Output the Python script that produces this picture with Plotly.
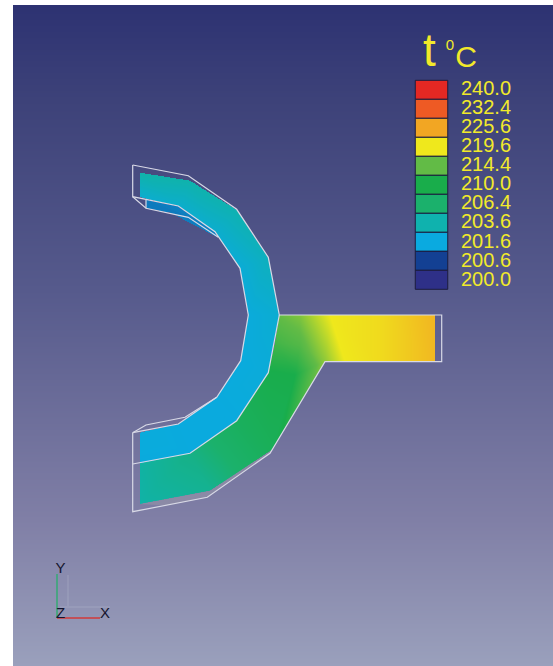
import numpy as np
import plotly.graph_objects as go

# ---------- legend ----------
legend_labels = ["240.0", "232.4", "225.6", "219.6", "214.4", "210.0", "206.4", "203.6", "201.6", "200.6", "200.0"]
legend_temps = [240.0, 232.4, 225.6, 219.6, 214.4, 210.0, 206.4, 203.6, 201.6, 200.6, 200.0]
legend_colors = ["#e52823", "#ee5a24", "#f2a623", "#efe81c", "#62bb46", "#19ad4b", "#1bb16c",
                 "#0fb2ae", "#0aaae0", "#134093", "#2e3088"]

# ---------- background gradient (pixel row, colour) ----------
bg_rows = [5, 100, 290, 520, 666]
bg_colors = ["#2d3272", "#3d4279", "#565a8c", "#807fa6", "#9aa0bc"]

# ---------- temperature field: mesh nodes ----------
band_outer_x = [140, 190, 236.7, 268.3, 279.3, 268.3, 236.7, 190, 140]
band_outer_y = [172.7, 180.7, 210, 258.3, 315, 372.7, 420.7, 453.3, 463.3]
band_outer_t = [203.8, 203.7, 203.5, 203.0, 202.2, 201.9, 201.7, 201.7, 201.7]
band_inner_x = [140, 180, 216.7, 240, 248.3, 240.7, 216.7, 178.3, 140]
band_inner_y = [197, 206.7, 233.3, 268.3, 315, 360.7, 397.3, 424, 432.7]
band_inner_t = [202.3, 202.4, 202.3, 202.0, 201.8, 201.7, 201.7, 201.7, 201.8]

# outer band + junction + stem nodes
o_names = ["a0", "a05", "a1", "a2", "a3", "a4", "b0", "b1", "b2", "b3", "t1", "t2", "t3", "t4",
           "s2", "s3", "s4", "c", "m"]
o_x = [279.3, 275, 268.3, 236.7, 190, 140, 325, 271.7, 210, 140, 300, 330, 380, 435, 345, 380, 435, 300, 295]
o_y = [315, 343, 372.7, 420.7, 453.3, 463.3, 361.7, 450, 490.7, 504, 315, 315, 315, 315, 361.7, 361.7, 361.7, 345, 375]
o_t = [214.5, 212.5, 209.8, 208, 205.3, 204.1, 216, 208.5, 204.8, 203.9, 215.5, 219.6, 220.8, 224.2, 219.6, 220.8, 223.9, 213.5, 210]
o_tris = [("a0", "t1", "c"), ("a0", "c", "a05"), ("t1", "t2", "c"), ("t2", "b0", "c"), ("t2", "s2", "b0"),
          ("t2", "t3", "s3"), ("t2", "s3", "s2"), ("t3", "t4", "s4"), ("t3", "s4", "s3"),
          ("a05", "c", "m"), ("c", "b0", "m"), ("a05", "m", "a1"), ("b0", "b1", "m"), ("a1", "m", "b1"),
          ("a1", "b1", "a2"), ("a2", "b1", "b2"), ("a2", "b2", "a3"), ("a3", "b2", "b3"), ("a3", "b3", "a4")]

# darker back face under the upper arm
back_x = [146, 178, 215, 218, 188, 146]
back_y = [200, 206.5, 232, 237.5, 216, 208]
back_t = [201.15, 201.2, 201.2, 201.2, 201.15, 201.15]

# grey sliver under the lower band
sliver_x = [140, 210, 271.7, 270, 207.5, 165]
sliver_y = [504, 490.7, 450, 453.5, 497.5, 505.5]

# ---------- white wireframe polylines ----------
wire_paths = [
    ([132.7, 188.3, 236.7, 268.3, 279.3, 441.7, 441.7, 325, 270, 207.3, 132.7, 132.7],
     [165, 175.7, 209.3, 257.3, 315, 315, 361.7, 361.7, 453.3, 497.3, 511.7, 432.7]),
    ([132.7, 132.7, 178.3, 215, 240, 248.3, 248.3, 240.7, 216.7, 185, 146, 132.7],
     [165, 196.7, 206, 231.7, 268.3, 313.3, 315, 360.7, 397.3, 417.3, 425, 432.7]),
    ([132.7, 146, 188.3, 218.3], [196.7, 208.3, 217.3, 237.3]),
    ([146, 146], [200, 208.3]),
    ([132.7, 190, 236.7, 268.3, 279.3], [464, 453.3, 420.7, 372.7, 315]),
    ([132.7, 178.3, 216.7], [432.7, 424, 397.3]),
]

# ---------- axis triad ----------
triad_labels = ["Y", "Z", "X"]
triad_x = [60.5, 60.5, 105]
triad_y = [569, 614.5, 614]


def raster(tris, xs, ys):
    """Fill a pixel grid with temperature from triangles (barycentric)."""
    px, py = np.meshgrid(xs[:-1] + 0.5, ys[:-1] + 0.5)
    out = np.full(px.shape, np.nan)
    for (x1, y1, t1), (x2, y2, t2), (x3, y3, t3) in tris:
        d = (y2 - y3) * (x1 - x3) + (x3 - x2) * (y1 - y3)
        if abs(d) < 1e-9:
            continue
        l1 = ((y2 - y3) * (px - x3) + (x3 - x2) * (py - y3)) / d
        l2 = ((y3 - y1) * (px - x3) + (x1 - x3) * (py - y3)) / d
        l3 = 1 - l1 - l2
        m = (l1 >= -1e-3) & (l2 >= -1e-3) & (l3 >= -1e-3)
        out[m] = (l1 * t1 + l2 * t2 + l3 * t3)[m]
    return out


tris = []
bk = list(zip(back_x, back_y, back_t))
for i in range(1, len(bk) - 1):
    tris.append((bk[0], bk[i], bk[i + 1]))
op = list(zip(band_outer_x, band_outer_y, band_outer_t))
ip = list(zip(band_inner_x, band_inner_y, band_inner_t))
for i in range(len(op) - 1):
    tris.append((op[i], op[i + 1], ip[i + 1]))
    tris.append((op[i], ip[i + 1], ip[i]))
nodes = {n: (x, y, t) for n, x, y, t in zip(o_names, o_x, o_y, o_t)}
for a, b, c in o_tris:
    tris.append((nodes[a], nodes[b], nodes[c]))

gx = np.arange(125, 451)
gy = np.arange(155, 521)
field = raster(tris, gx.astype(float), gy.astype(float))

tmin, tmax = min(legend_temps), max(legend_temps)
colorscale = [[(t - tmin) / (tmax - tmin), c] for t, c in zip(legend_temps[::-1], legend_colors[::-1])]

fig = go.Figure()

# background
bx = [13, 553]
by = np.arange(5, 667)
bz = (by[:-1] + 0.5).reshape(-1, 1)
bg_scale = [[(r - bg_rows[0]) / (bg_rows[-1] - bg_rows[0]), c] for r, c in zip(bg_rows, bg_colors)]
fig.add_trace(go.Heatmap(x=bx, y=by, z=bz, colorscale=bg_scale, zmin=bg_rows[0], zmax=bg_rows[-1],
                         showscale=False, hoverinfo="skip"))

# grey sliver
fig.add_trace(go.Scatter(x=sliver_x + sliver_x[:1], y=sliver_y + sliver_y[:1], mode="lines", fill="toself",
                         fillcolor="#8b8aa6", line=dict(width=0), hoverinfo="skip"))

# temperature field
fig.add_trace(go.Heatmap(x=gx, y=gy, z=field, colorscale=colorscale, zmin=tmin, zmax=tmax,
                         showscale=False, hoverinfo="skip"))

# wireframe
for wx, wy in wire_paths:
    fig.add_trace(go.Scatter(x=wx, y=wy, mode="lines", line=dict(color="#d8d9e6", width=1.2), hoverinfo="skip"))

# legend swatches
n = len(legend_labels)
fig.add_trace(go.Bar(x=[431.5] * n, y=[19] * n, base=[80.3 + i * 19 for i in range(n)], width=32.5,
                     marker=dict(color=legend_colors, line=dict(color="#1c1c3c", width=1)), hoverinfo="skip"))
fig.add_trace(go.Scatter(x=[461] * n, y=[90 + i * 19.07 for i in range(n)], mode="text", text=legend_labels,
                         textposition="middle right", hoverinfo="skip",
                         textfont=dict(family="Liberation Sans", size=20, color="#f2ea2a")))
# title
fig.add_trace(go.Scatter(x=[429.5, 450, 466], y=[54, 46.5, 59], mode="text", text=["t", "0", "C"],
                         textposition="middle center", hoverinfo="skip",
                         textfont=dict(family="Liberation Sans", size=[46, 15, 30], color="#f2ea2a")))

# triad
fig.add_trace(go.Scatter(x=[68, 68], y=[575, 606], mode="lines", line=dict(color="rgba(190,195,215,0.35)", width=1), hoverinfo="skip"))
fig.add_trace(go.Scatter(x=[60, 110], y=[607, 607], mode="lines", line=dict(color="rgba(190,195,215,0.35)", width=1), hoverinfo="skip"))
fig.add_trace(go.Scatter(x=[57, 57], y=[574, 618], mode="lines", line=dict(color="#3aa878", width=1.6), hoverinfo="skip"))
fig.add_trace(go.Scatter(x=[57, 100], y=[618, 618], mode="lines", line=dict(color="#d23a3a", width=1.3), hoverinfo="skip"))
fig.add_trace(go.Scatter(x=triad_x, y=triad_y, mode="text", text=triad_labels, textposition="middle center",
                         hoverinfo="skip", textfont=dict(family="Liberation Sans", size=15, color="#15152e")))

fig.update_layout(
    width=553, height=666, margin=dict(l=0, r=0, t=0, b=0), showlegend=False,
    paper_bgcolor="white", plot_bgcolor="white", barmode="overlay",
    xaxis=dict(range=[0, 553], visible=False, fixedrange=True),
    yaxis=dict(range=[666, 0], visible=False, fixedrange=True),
)
fig.write_html("out.html", config={"displayModeBar": False},
               post_script="document.body.style.margin='0';document.body.style.overflow='hidden';")
